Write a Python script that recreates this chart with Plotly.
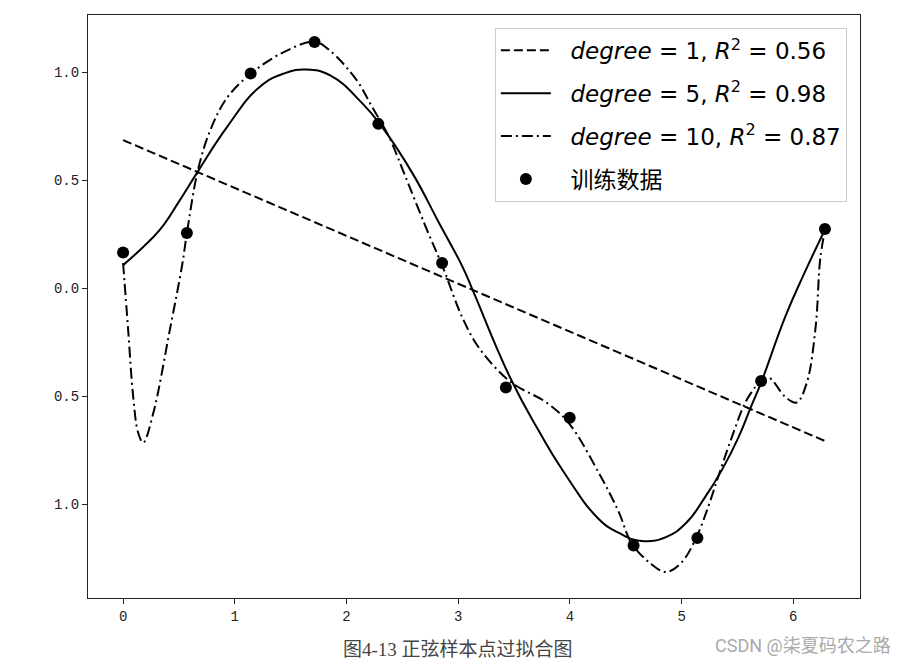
import plotly.graph_objects as go

# training samples
train_x = [0.0, 0.571, 1.142, 1.714, 2.285, 2.856, 3.427, 3.998, 4.570, 5.141, 5.712, 6.283]
train_y = [0.165, 0.255, 0.993, 1.139, 0.760, 0.116, -0.460, -0.600, -1.192, -1.157, -0.430, 0.273]

# degree 1 fit
deg1_x = [0.0, 6.283]
deg1_y = [0.685, -0.708]

# degree 5 fit
deg5_x = [0.0, 0.18, 0.33, 0.50, 0.67, 0.93, 1.22, 1.45, 1.64, 1.85, 2.14, 2.32, 2.59, 2.83, 3.04, 3.13,
          3.47, 3.72, 3.93, 4.26, 4.44, 4.64, 4.86, 5.04, 5.21, 5.36, 5.51, 5.62, 5.71,
          5.93, 6.10, 6.283]
deg5_y = [0.106, 0.19, 0.27, 0.40, 0.54, 0.745, 0.93, 0.995, 1.012, 0.986, 0.856, 0.745, 0.532, 0.30, 0.097, -0.01,
          -0.42, -0.66, -0.84, -1.07, -1.134, -1.171, -1.153, -1.088, -0.968, -0.843, -0.69, -0.551, -0.44,
          -0.13, 0.07, 0.27]

# degree 10 fit
deg10_x = [0.0, 0.045, 0.09, 0.135, 0.18, 0.27, 0.42, 0.53, 0.57, 0.67, 0.78, 0.93, 1.15,
           1.43, 1.71, 1.85, 2.09, 2.23, 2.38, 2.54, 2.71, 2.86, 3.04, 3.19, 3.47, 3.79, 3.99,
           4.26, 4.44, 4.55, 4.71, 4.86, 5.00, 5.13, 5.24, 5.33, 5.45, 5.57, 5.66, 5.70, 5.78,
           5.93, 6.03, 6.12, 6.20, 6.24, 6.283]
deg10_y = [0.116, -0.19, -0.50, -0.67, -0.716, -0.58, -0.19, 0.11, 0.25, 0.546, 0.73, 0.88, 0.995,
           1.09, 1.14, 1.10, 0.963, 0.838, 0.70, 0.50, 0.282, 0.10, -0.14, -0.28, -0.435, -0.53, -0.625,
           -0.857, -1.04, -1.18, -1.27, -1.315, -1.27, -1.157, -1.01, -0.87, -0.69, -0.53, -0.457, -0.43, -0.415,
           -0.505, -0.53, -0.44, -0.18, 0.13, 0.27]

y_ticks = [-1.0, -0.5, 0.0, 0.5, 1.0]
y_tick_text = ["1.0", "0.5", "0.0", "0.5", "1.0"]
x_ticks = [0, 1, 2, 3, 4, 5, 6]

# leading spaces leave a gap between the legend sample and its text
gap = "&nbsp;&nbsp;"
names = [
    gap + "<i>degree</i> = 1, <i>R</i><sup>2</sup> = 0.56",
    gap + "<i>degree</i> = 5, <i>R</i><sup>2</sup> = 0.98",
    gap + "<i>degree</i> = 10, <i>R</i><sup>2</sup> = 0.87",
    gap + "训练数据",
]

fig = go.Figure()
fig.add_trace(go.Scatter(x=deg1_x, y=deg1_y, mode="lines", name=names[0], legendgroup="a",
                         line=dict(color="black", width=2, dash="9px,4px")))
fig.add_trace(go.Scatter(x=deg5_x, y=deg5_y, mode="lines", name=names[1], legendgroup="b",
                         line=dict(color="black", width=2, shape="spline", smoothing=1.3)))
fig.add_trace(go.Scatter(x=deg10_x, y=deg10_y, mode="lines", name=names[2], legendgroup="c",
                         line=dict(color="black", width=2, shape="spline", smoothing=1,
                                   dash="11px,4px,2px,4px")))
fig.add_trace(go.Scatter(x=train_x, y=train_y, mode="markers", name=names[3], legendgroup="d",
                         marker=dict(color="black", size=12)))

# the page body has an 8px margin, so the figure is a bit smaller than the window
tick_font = dict(size=14, family="Liberation Mono, DejaVu Sans Mono", color="#222")
fig.update_layout(
    width=903, height=656,
    margin=dict(l=80, r=51, t=7, b=66),
    paper_bgcolor="white", plot_bgcolor="white",
    font=dict(family="DejaVu Sans, Noto Sans CJK SC", color="#222"),
    showlegend=True,
    legend=dict(x=0.983, y=0.978, xanchor="right", yanchor="top",
                bgcolor="rgba(255,255,255,0.9)", bordercolor="#cccccc", borderwidth=1,
                font=dict(size=23, color="black", family="DejaVu Sans, Noto Sans CJK SC"),
                tracegroupgap=10, itemwidth=50),
    xaxis=dict(range=[-0.314, 6.597], tickvals=x_ticks, showgrid=False, zeroline=False,
               showline=True, linecolor="#222", linewidth=1, mirror=True,
               ticks="outside", ticklen=5, tickcolor="#222", tickfont=tick_font),
    yaxis=dict(range=[-1.435, 1.264], tickvals=y_ticks, ticktext=y_tick_text,
               showgrid=False, zeroline=False,
               showline=True, linecolor="#222", linewidth=1, mirror=True,
               ticks="outside", ticklen=5, tickcolor="#222", tickfont=tick_font),
)

fig.add_annotation(text="图4-13 正弦样本点过拟合图", xref="paper", yref="paper",
                   x=0.479, y=-0.0875, showarrow=False, xanchor="center", yanchor="middle",
                   font=dict(size=19, color="#444", family="Liberation Serif, Noto Sans CJK SC"))
fig.add_annotation(text="CSDN @柒夏码农之路", xref="paper", yref="paper",
                   x=1.043, y=-0.0823, showarrow=False, xanchor="right", yanchor="middle",
                   font=dict(size=18, color="#aaaaaa", family="Roboto, Noto Sans CJK SC"))

fig.write_html("out.html")
